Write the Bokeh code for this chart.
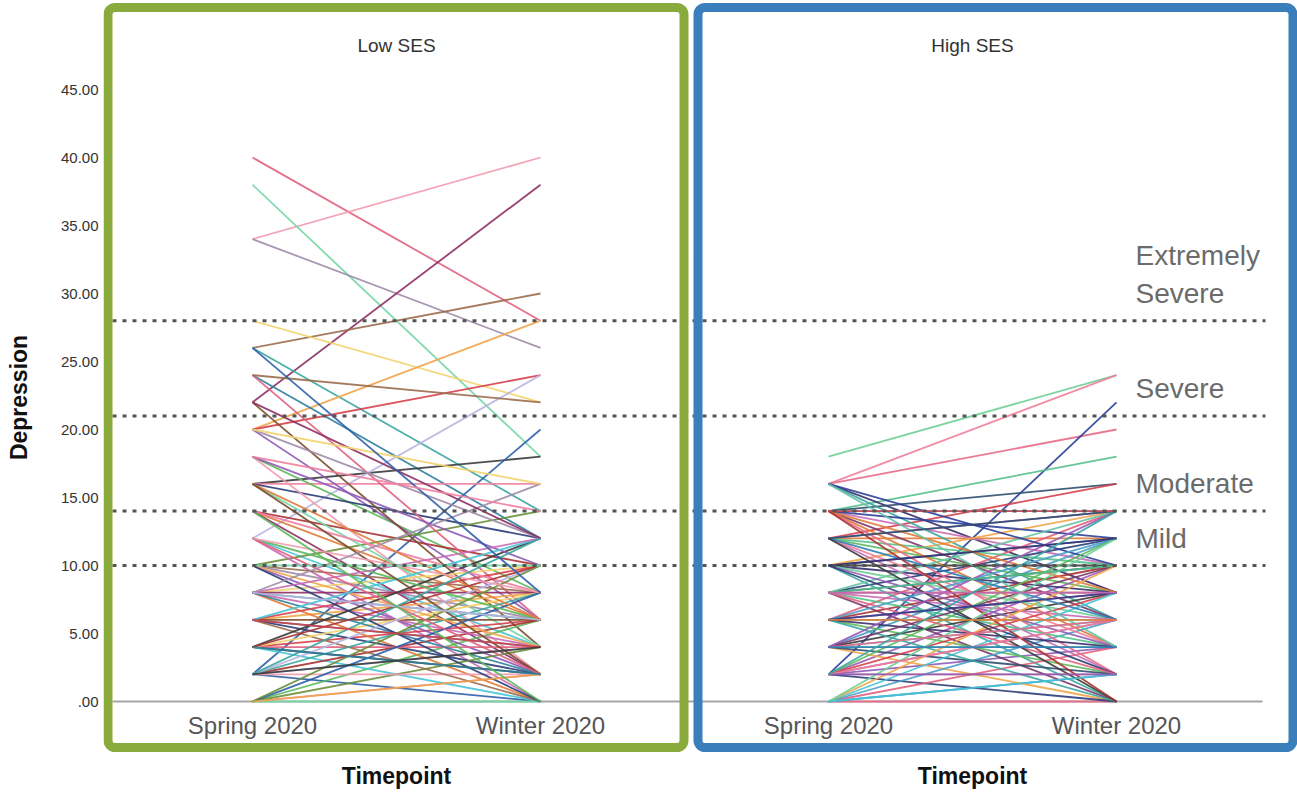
from bokeh.plotting import figure
from bokeh.models import ColumnDataSource, Range1d, FixedTicker, BoxAnnotation, PrintfTickFormatter
from bokeh.core.properties import value
from bokeh.embed import file_html
from bokeh.resources import INLINE

# ---------------------------------------------------------------- data
timepoints = ["Spring 2020", "Winter 2020"]
groups = ["Low SES", "High SES"]

# Depression scores per participant (Spring 2020 -> Winter 2020)
low_spring = [40, 34, 38, 34, 22, 26, 28, 26, 20, 24,
              20, 16, 12, 2, 16, 18, 20, 14, 16, 12,
              14, 10, 12, 22, 24, 18, 16, 20, 14, 10,
              8, 8, 6, 6, 4, 4, 2, 2, 0, 0,
              10, 8, 6, 4, 2, 0, 8, 6, 4, 2,
              0, 10, 8, 6, 4, 2, 10, 8, 6, 4,
              2, 0, 14, 12, 18, 16, 10, 6, 4, 0,
              8, 16, 12, 12, 10, 8, 22, 24, 20, 2,
              0, 4, 6, 2, 8, 26, 18, 14]
low_winter = [28, 40, 18, 26, 38, 30, 22, 14, 28, 12,
              24, 18, 24, 20, 16, 8, 6, 6, 12, 4,
              10, 14, 0, 4, 6, 2, 4, 12, 2, 8,
              10, 6, 8, 4, 6, 2, 4, 0, 2, 6,
              2, 0, 2, 0, 6, 4, 4, 6, 4, 2,
              0, 6, 8, 0, 8, 8, 4, 2, 10, 12,
              10, 8, 8, 6, 10, 6, 0, 12, 10, 10,
              12, 2, 2, 8, 10, 16, 12, 22, 16, 12,
              2, 2, 4, 4, 6, 8, 14, 0]

high_spring = [18, 16, 16, 2, 14, 16, 14, 12, 14, 12,
               10, 12, 14, 16, 14, 12, 10, 8, 6, 4,
               2, 10, 8, 6, 4, 2, 0, 14, 12, 10,
               8, 6, 4, 2, 0, 14, 12, 10, 8, 6,
               4, 2, 0, 0, 2, 4, 6, 8, 10, 12,
               14, 16, 8, 6, 4, 2, 0, 10, 12, 14,
               8, 6, 4, 2, 0, 10, 8, 6, 4, 12,
               14, 16, 0, 2, 4, 6, 8, 10, 12, 14,
               0, 2, 4, 6, 8, 2]
high_winter = [24, 24, 20, 22, 18, 8, 16, 16, 14, 14,
               12, 12, 10, 6, 6, 8, 14, 12, 14, 12,
               10, 10, 8, 6, 4, 2, 0, 12, 10, 8,
               10, 8, 6, 4, 2, 4, 2, 0, 0, 2,
               0, 0, 4, 6, 6, 8, 10, 14, 6, 4,
               2, 10, 4, 4, 2, 8, 8, 4, 6, 8,
               6, 0, 10, 12, 10, 2, 2, 12, 14, 0,
               0, 4, 12, 6, 6, 8, 10, 12, 14, 14,
               2, 2, 4, 6, 8, 14]

cutoffs = [28, 21, 14, 10]
severity_labels = [["Extremely", "Severe"], ["Severe"], ["Moderate"], ["Mild"]]
y_ticks = [0, 5, 10, 15, 20, 25, 30, 35, 40, 45]

# ---------------------------------------------------------------- styles
low_palette = ["#e0607e", "#f29bb0", "#74d6a6", "#a08ca8", "#8c2d62", "#9b6b4c",
               "#f3d36b", "#3aa6a0", "#f0a54a", "#2f7f9e", "#d6404a", "#3b3b3b",
               "#b9b5e0", "#2d5fa8", "#ef7fa0", "#5cb85c", "#8e5bb5", "#e07b39",
               "#2c3e78", "#47c5d8", "#a83232", "#6a8f3a", "#c76bb5", "#7a4a2a"]
high_palette = ["#6fcf97", "#ef7f9a", "#e86a8a", "#2b3f9a", "#52c08a", "#3a2f6b",
                "#2f4f6f", "#d6404a", "#47c5d8", "#8e5bb5", "#2d7fb8", "#e07b39",
                "#c76bb5", "#3aa6a0", "#7a3a6a", "#5cb85c", "#f0a54a", "#2c3e78",
                "#e0607e", "#4aa0c8", "#9b59b6", "#3b3b3b", "#a83232", "#66c2a5"]
GREEN = "#89aa3d"
BLUE = "#3a7ebc"
FONT = "Liberation Sans"

W, H = 1297, 794
FRAME_LEFT = 103
PX_PER_X = 288.0
PX_PER_Y = 13.6
X_START = -(252 - FRAME_LEFT) / PX_PER_X
X_END = X_START + (W - FRAME_LEFT) / PX_PER_X
Y_END = 701 / PX_PER_Y
Y_START = Y_END - H / PX_PER_Y


def px2x(px):
    return X_START + (px - FRAME_LEFT) / PX_PER_X


def px2y(py):
    return Y_END - py / PX_PER_Y


p = figure(width=W, height=H, x_range=Range1d(X_START, X_END), y_range=Range1d(Y_START, Y_END),
           x_axis_location=None, toolbar_location=None, output_backend="svg",
           min_border_left=FRAME_LEFT, min_border_right=0, min_border_top=0, min_border_bottom=0)
p.outline_line_color = None
p.grid.visible = False
p.background_fill_color = "white"

# ---------------------------------------------------------------- y axis
ax = p.yaxis[0]
ax.ticker = FixedTicker(ticks=y_ticks)
ax.formatter = PrintfTickFormatter(format="%.2f")
ax.major_label_overrides = {0: ".00"}
ax.axis_line_color = None
ax.major_tick_line_color = None
ax.minor_tick_line_color = None
ax.major_tick_out = 0
ax.major_label_standoff = 5
ax.major_label_text_font = FONT
ax.major_label_text_font_size = "15px"
ax.major_label_text_color = "#333333"
ax.axis_label = "Depression"
ax.axis_label_text_font = FONT
ax.axis_label_text_font_style = "bold"
ax.axis_label_text_font_size = "23px"
ax.axis_label_text_color = "#111111"
ax.axis_label_standoff = 26

# ---------------------------------------------------------------- baseline
p.segment(x0=[px2x(112)], x1=[px2x(1262)], y0=[0], y1=[0], line_color="#a6a6a6", line_width=2)

# ---------------------------------------------------------------- spaghetti lines
def panel_source(spring, winter, palette, g):
    xs = [[2 * g, 2 * g + 1] for _ in spring]
    ys = [[s, w] for s, w in zip(spring, winter)]
    colors = [palette[i % len(palette)] for i in range(len(spring))]
    return ColumnDataSource(dict(xs=xs, ys=ys, color=colors))


for g, (sp, wi, pal) in enumerate([(low_spring, low_winter, low_palette),
                                   (high_spring, high_winter, high_palette)]):
    p.multi_line(xs="xs", ys="ys", line_color="color", line_width=1.8, line_alpha=0.9,
                 source=panel_source(sp, wi, pal, g))

# ---------------------------------------------------------------- severity cut-offs
p.segment(x0=[px2x(112)] * len(cutoffs), x1=[px2x(1265)] * len(cutoffs),
          y0=cutoffs, y1=cutoffs, line_color="#555555", line_width=3, line_dash="4 6")

lab_x, lab_y, lab_t = [], [], []
for c, lines in zip(cutoffs, severity_labels):
    for k, t in enumerate(reversed(lines)):
        lab_x.append(px2x(1135))
        lab_y.append(c + 2.0 + 2.8 * k)
        lab_t.append(t)
p.text(x=lab_x, y=lab_y, text=lab_t, text_font=value(FONT), text_font_size="28px",
       text_color="#6b6b6b", text_align="left", text_baseline="middle")

# ---------------------------------------------------------------- category / panel texts
cat_x = [2 * g + i for g in range(len(groups)) for i in range(len(timepoints))]
cat_t = [t for _ in groups for t in timepoints]
p.text(x=cat_x, y=[-1.75] * len(cat_x), text=cat_t, text_font=value(FONT), text_font_size="24px",
       text_color="#555555", text_align="center", text_baseline="middle")

mid_x = [2 * g + 0.5 for g in range(len(groups))]
p.text(x=mid_x, y=[48.2] * len(groups), text=groups, text_font=value(FONT), text_font_size="19px",
       text_color="#333333", text_align="center", text_baseline="middle")
p.text(x=mid_x, y=[-5.5] * len(groups), text=["Timepoint"] * len(groups), text_font=value(FONT),
       text_font_size="23px", text_font_style="bold", text_color="#111111",
       text_align="center", text_baseline="middle")

# ---------------------------------------------------------------- panel frames
for (l, r), col in [((107.5, 683.5), GREEN), ((697.5, 1292.5), BLUE)]:
    p.add_layout(BoxAnnotation(left=px2x(l), right=px2x(r), top=px2y(7), bottom=px2y(747),
                               fill_color=None, fill_alpha=0, line_color=col, line_alpha=1.0,
                               line_width=9, border_radius=7))

open("out.html", "w").write(file_html(p, INLINE))
